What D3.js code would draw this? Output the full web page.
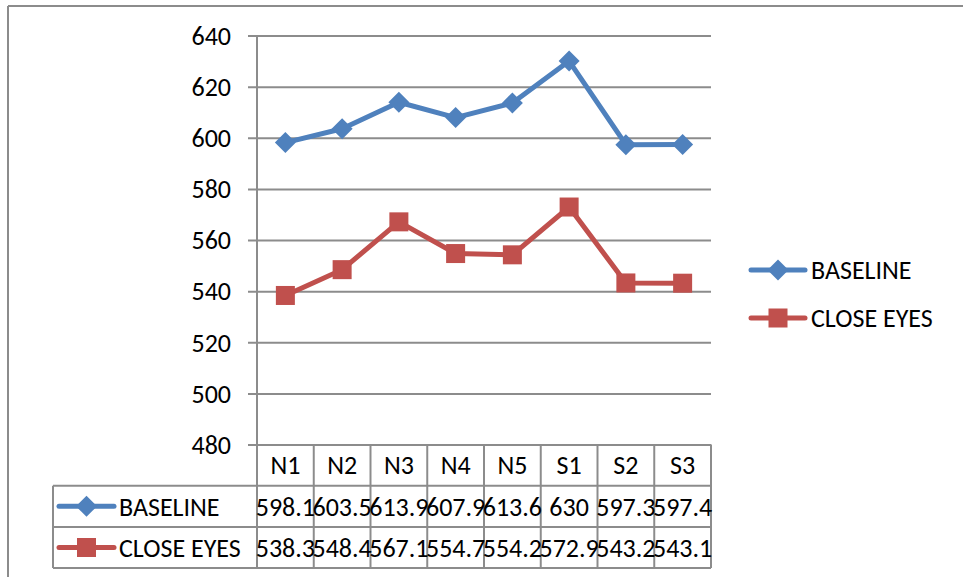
<!DOCTYPE html>
<html>
<head>
<meta charset="utf-8">
<script src="https://cdn.jsdelivr.net/npm/d3@7"></script>
<style>
  html, body { margin: 0; padding: 0; background: #fff; }
  svg { display: block; }
  text { font-family: Carlito, Calibri, Lato, sans-serif; fill: #000; }
</style>
</head>
<body>
<script>
const categories = ["N1", "N2", "N3", "N4", "N5", "S1", "S2", "S3"];
const seriesNames = ["BASELINE", "CLOSE EYES"];
const baseline = [598.1, 603.5, 613.9, 607.9, 613.6, 630, 597.3, 597.4];
const closeEyes = [538.3, 548.4, 567.1, 554.7, 554.2, 572.9, 543.2, 543.1];
const yTicks = [480, 500, 520, 540, 560, 580, 600, 620, 640];
const colors = ["#4F81BD", "#C0504D"];

const W = 963, H = 577;
const plot = { left: 257, right: 711, top: 35.5, bottom: 444.5 };
const rowH = 41.2;
const tableLeft = 53;
const fontSize = 26;
const gridColor = "#8c8c8c";

const svg = d3.select("body").append("svg").attr("width", W).attr("height", H);

// outer chart border (top and left visible)
svg.append("line").attr("x1", 8).attr("x2", W).attr("y1", 6).attr("y2", 6)
  .attr("stroke", gridColor).attr("stroke-width", 2);
svg.append("line").attr("x1", 8).attr("x2", 8).attr("y1", 6).attr("y2", H)
  .attr("stroke", gridColor).attr("stroke-width", 2);

const x = d3.scaleBand().domain(categories).range([plot.left, plot.right]).padding(0);
const y = d3.scaleLinear().domain([480, 640]).range([plot.bottom, plot.top]);

// gridlines + tick marks
const yAxis = d3.axisLeft(y).tickValues(yTicks).tickSize(-(plot.right - plot.left)).tickSizeOuter(0).tickPadding(0).tickFormat("");
const gy = svg.append("g").attr("transform", `translate(${plot.left},0)`).call(yAxis);
gy.select(".domain").remove();
gy.selectAll(".tick line").attr("x1", -9).attr("stroke", gridColor).attr("stroke-width", 2);

// y tick labels
svg.append("g").selectAll("text").data(yTicks).join("text")
  .attr("x", 231).attr("y", d => y(d)).attr("dy", "0.36em")
  .attr("text-anchor", "end").attr("font-size", fontSize).text(d => d);

// data table
const tableBottom = plot.bottom + 3 * rowH;
const g = svg.append("g");
const bounds = categories.map(c => x(c)).concat([plot.right]);
g.selectAll("line.v").data(bounds).join("line").attr("class", "v")
  .attr("x1", d => d).attr("x2", d => d)
  .attr("y1", (d, i) => i === 0 ? plot.top : plot.bottom)
  .attr("y2", tableBottom)
  .attr("stroke", gridColor).attr("stroke-width", 2);
g.append("line").attr("x1", tableLeft).attr("x2", tableLeft)
  .attr("y1", plot.bottom + rowH).attr("y2", tableBottom)
  .attr("stroke", gridColor).attr("stroke-width", 2);
[plot.bottom + rowH, plot.bottom + 2 * rowH, tableBottom].forEach(yy => {
  g.append("line").attr("x1", tableLeft).attr("x2", plot.right)
    .attr("y1", yy).attr("y2", yy).attr("stroke", gridColor).attr("stroke-width", 2);
});
g.selectAll("text.cat").data(categories).join("text").attr("class", "cat")
  .attr("x", d => x(d) + x.bandwidth() / 2).attr("y", plot.bottom + rowH / 2).attr("dy", "0.36em")
  .attr("text-anchor", "middle").attr("font-size", fontSize).text(d => d);

const allSeries = [baseline, closeEyes];

function drawMarker(sel, si, cx, cy) {
  if (si === 0) {
    const s = 10.5;
    sel.append("path").attr("d", `M${cx},${cy - s}L${cx + s},${cy}L${cx},${cy + s}L${cx - s},${cy}Z`)
      .attr("fill", colors[0]);
  } else {
    const s = 9.5;
    sel.append("rect").attr("x", cx - s).attr("y", cy - s).attr("width", 2 * s).attr("height", 2 * s)
      .attr("fill", colors[1]);
  }
}

function drawKey(sel, si, x0, x1, cy) {
  sel.append("line").attr("x1", x0).attr("x2", x1).attr("y1", cy).attr("y2", cy)
    .attr("stroke", colors[si]).attr("stroke-width", 5).attr("stroke-linecap", "round");
  drawMarker(sel, si, (x0 + x1) / 2, cy);
}

allSeries.forEach((vals, si) => {
  const rowMid = plot.bottom + rowH * (si + 1) + rowH / 2;
  drawKey(g, si, 59, 114, rowMid);
  g.append("text").attr("x", 119).attr("y", rowMid).attr("dy", "0.36em")
    .attr("font-size", fontSize).text(seriesNames[si]);
  g.selectAll(null).data(vals).join("text")
    .attr("x", (d, i) => x(categories[i]) + x.bandwidth() / 2).attr("y", rowMid).attr("dy", "0.36em")
    .attr("text-anchor", "middle").attr("font-size", fontSize).text(d => d);
});

const line = d3.line().x((d, i) => x(categories[i]) + x.bandwidth() / 2).y(d => y(d));
allSeries.forEach((vals, si) => {
  svg.append("path").datum(vals).attr("d", line).attr("fill", "none")
    .attr("stroke", colors[si]).attr("stroke-width", 5).attr("stroke-linejoin", "round").attr("stroke-linecap", "round");
  const mg = svg.append("g");
  vals.forEach((v, i) => drawMarker(mg, si, x(categories[i]) + x.bandwidth() / 2, y(v)));
});

const legend = svg.append("g");
[270, 318].forEach((cy, si) => {
  drawKey(legend, si, 751, 805, cy);
  legend.append("text").attr("x", 811).attr("y", cy).attr("dy", "0.36em")
    .attr("font-size", fontSize).text(seriesNames[si]);
});
</script>
</body>
</html>
